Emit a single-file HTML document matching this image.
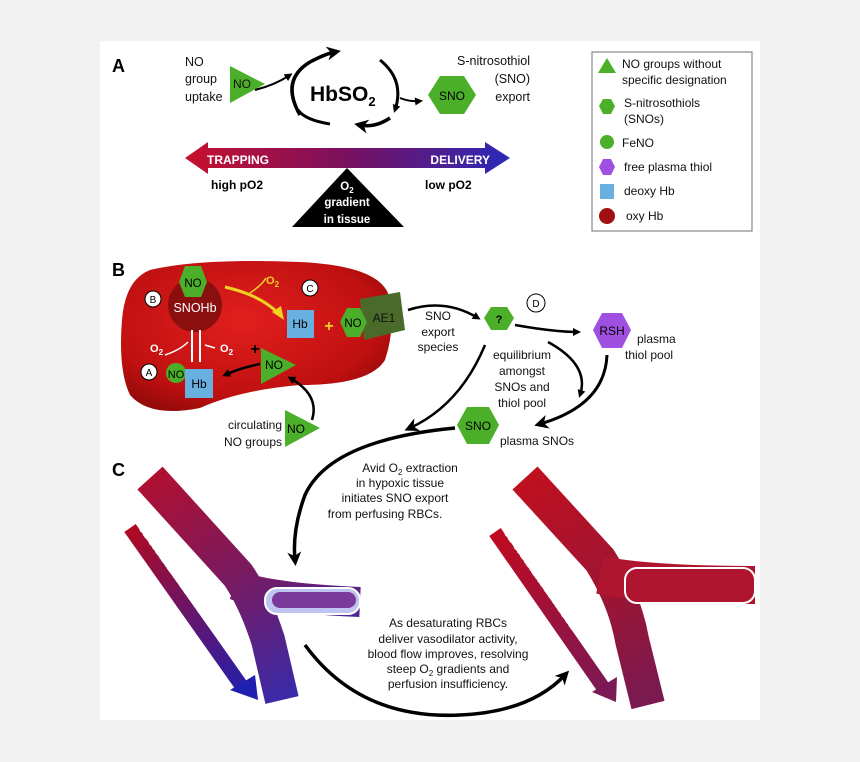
<!DOCTYPE html>
<html><head><meta charset="utf-8"><style>
html,body{margin:0;padding:0;background:#f2f2f2;}
svg{display:block;font-family:"Liberation Sans",sans-serif;}
</style></head><body>
<svg width="860" height="762" viewBox="0 0 860 762" xmlns="http://www.w3.org/2000/svg">
<defs>
<linearGradient id="tr" x1="0" x2="1"><stop offset="0" stop-color="#c8102e"/><stop offset="0.5" stop-color="#7a1060"/><stop offset="1" stop-color="#2a2ab8"/></linearGradient>
<radialGradient id="rbc" cx="0.45" cy="0.4" r="0.7"><stop offset="0" stop-color="#e0201e"/><stop offset="0.7" stop-color="#c01010"/><stop offset="1" stop-color="#8a0808"/></radialGradient>
<linearGradient id="v1" gradientUnits="userSpaceOnUse" x1="150" y1="475" x2="280" y2="700"><stop offset="0" stop-color="#b01030"/><stop offset="0.5" stop-color="#7a1a60"/><stop offset="1" stop-color="#3a2aa8"/></linearGradient>
<linearGradient id="v2" gradientUnits="userSpaceOnUse" x1="525" y1="475" x2="640" y2="700"><stop offset="0" stop-color="#c01020"/><stop offset="0.6" stop-color="#9a1535"/><stop offset="1" stop-color="#7a1a50"/></linearGradient>
<linearGradient id="g1" gradientUnits="userSpaceOnUse" x1="135" y1="525" x2="250" y2="695"><stop offset="0" stop-color="#b00a20"/><stop offset="1" stop-color="#2020b0"/></linearGradient>
<linearGradient id="g2" gradientUnits="userSpaceOnUse" x1="500" y1="530" x2="610" y2="695"><stop offset="0" stop-color="#c00a20"/><stop offset="1" stop-color="#7a1a55"/></linearGradient>
<marker id="ah" markerWidth="8" markerHeight="8" refX="5" refY="4" orient="auto" markerUnits="userSpaceOnUse"><path d="M0,0 L8,4 L0,8 Z" fill="#000"/></marker>
<marker id="ahb" markerWidth="14" markerHeight="14" refX="8" refY="7" orient="auto" markerUnits="userSpaceOnUse"><path d="M0,0 L14,7 L0,14 L4,7 Z" fill="#000"/></marker>
</defs>
<rect x="100" y="41" width="660" height="679" fill="#fff"/>

<!-- Panel A -->
<text x="112" y="72" font-size="18" font-weight="bold">A</text>
<g font-size="12.5" fill="#111">
<text x="185" y="66">NO</text><text x="185" y="83">group</text><text x="185" y="101">uptake</text>
<text x="530" y="65" text-anchor="end">S-nitrosothiol</text><text x="530" y="83" text-anchor="end">(SNO)</text><text x="530" y="101" text-anchor="end">export</text>
</g>
<polygon points="230,66 265,84 230,103" fill="#4caf2a"/>
<text x="233" y="88" font-size="12" fill="#111">NO</text>
<path d="M255,90 Q275,85 290,75" fill="none" stroke="#000" stroke-width="2" marker-end="url(#ah)"/>
<path d="M300,115 Q280,80 310,62 Q325,54 335,52" fill="none" stroke="#000" stroke-width="3.5" marker-end="url(#ahb)"/>
<path d="M380,60 Q405,80 395,110" fill="none" stroke="#000" stroke-width="3" marker-end="url(#ah)"/>
<path d="M390,118 Q375,128 360,125" fill="none" stroke="#000" stroke-width="3.5" marker-end="url(#ahb)"/>
<path d="M330,124 Q305,120 298,110" fill="none" stroke="#000" stroke-width="3"/>
<path d="M400,98 Q410,102 420,101" fill="none" stroke="#000" stroke-width="2" marker-end="url(#ah)"/>
<text x="310" y="101" font-size="21" font-weight="bold">HbSO<tspan font-size="13" dy="5">2</tspan></text>
<polygon points="440,76 464,76 476,95 464,114 440,114 428,95" fill="#4caf2a"/>
<text x="452" y="100" font-size="12" text-anchor="middle">SNO</text>

<path d="M185,158 L208,142 L208,148 L485,148 L485,142 L510,158 L485,174 L485,168 L208,168 L208,174 Z" fill="url(#tr)"/>
<text x="207" y="164" font-size="12" font-weight="bold" fill="#fff">TRAPPING</text>
<text x="490" y="164" font-size="12" font-weight="bold" fill="#fff" text-anchor="end">DELIVERY</text>
<text x="211" y="189" font-size="12" font-weight="bold">high pO2</text>
<text x="425" y="189" font-size="12" font-weight="bold">low pO2</text>
<polygon points="347,168 404,227 292,227" fill="#000"/>
<g fill="#fff" font-size="11.5" font-weight="bold" text-anchor="middle">
<text x="347" y="190">O<tspan font-size="8" dy="3">2</tspan></text>
<text x="347" y="206">gradient</text><text x="347" y="223">in tissue</text></g>

<!-- Legend -->
<rect x="592" y="52" width="160" height="179" fill="#fff" stroke="#888" stroke-width="1.2"/>
<g font-size="12" fill="#111">
<polygon points="607,58 616,73 598,73" fill="#4caf2a"/>
<text x="622" y="68">NO groups without</text><text x="622" y="84">specific designation</text>
<polygon points="603,99 611,99 615,106 611,114 603,114 599,106" fill="#4caf2a"/>
<text x="624" y="107">S-nitrosothiols</text><text x="624" y="123">(SNOs)</text>
<circle cx="607" cy="142" r="7" fill="#4caf2a"/>
<text x="622" y="147">FeNO</text>
<polygon points="603,159 611,159 615,167 611,175 603,175 599,167" fill="#a050e0"/>
<text x="624" y="171">free plasma thiol</text>
<rect x="600" y="184" width="14" height="15" fill="#68b0e0"/>
<text x="624" y="195">deoxy Hb</text>
<circle cx="607" cy="216" r="8" fill="#a01010"/>
<text x="626" y="220">oxy Hb</text>
</g>

<!-- Panel B -->
<text x="112" y="276" font-size="18" font-weight="bold">B</text>
<path d="M150,270 Q200,258 300,262 Q385,266 390,300 Q395,330 385,360 Q370,385 300,385 Q240,390 200,408 Q150,418 130,395 Q118,370 122,320 Q125,280 150,270 Z" fill="url(#rbc)"/>
<circle cx="195" cy="305" r="27" fill="#8a1010"/>
<text x="195" y="312" font-size="12.5" fill="#fff" text-anchor="middle">SNOHb</text>
<polygon points="185,266 201,266 207,282 201,297 185,297 179,282" fill="#4caf2a"/>
<text x="193" y="287" font-size="11.5" text-anchor="middle">NO</text>
<circle cx="153" cy="299" r="8" fill="#fff" stroke="#000"/><text x="153" y="303" font-size="10" text-anchor="middle">B</text>
<circle cx="310" cy="288" r="8" fill="#fff" stroke="#000"/><text x="310" y="292" font-size="10" text-anchor="middle">C</text>
<circle cx="149" cy="372" r="8" fill="#fff" stroke="#000"/><text x="149" y="376" font-size="10" text-anchor="middle">A</text>
<circle cx="536" cy="303" r="9" fill="#fff" stroke="#000"/><text x="536" y="307" font-size="10" text-anchor="middle">D</text>
<path d="M225,287 Q260,295 278,313" fill="none" stroke="#f0d020" stroke-width="3"/>
<polygon points="284,320 272,312 281,306" fill="#f0d020"/>
<path d="M250,293 Q262,285 266,278" fill="none" stroke="#f0d020" stroke-width="1.5"/>
<text x="266" y="284" font-size="11" font-weight="bold" fill="#f0d020">O<tspan font-size="8" dy="3">2</tspan></text>
<rect x="287" y="310" width="27" height="28" fill="#68b0e0"/>
<text x="300" y="328" font-size="12" text-anchor="middle">Hb</text>
<text x="329" y="331" font-size="16" font-weight="bold" fill="#f0d020" text-anchor="middle">+</text>
<polygon points="360,299 400,292 405,330 364,340" fill="#4a6a2a"/>
<text x="384" y="322" font-size="12" fill="#111" text-anchor="middle">AE1</text>
<polygon points="347,308 360,308 367,322 360,337 347,337 340,322" fill="#4caf2a"/>
<text x="353" y="327" font-size="11.5" text-anchor="middle">NO</text>
<g fill="#fff" font-size="11" font-weight="bold"><text x="150" y="352">O<tspan font-size="8" dy="3">2</tspan></text><text x="220" y="352">O<tspan font-size="8" dy="3">2</tspan></text></g>
<path d="M192,330 L192,362 M200,362 L200,330" stroke="#fff" stroke-width="2"/>
<path d="M165,355 Q180,350 188,342 M205,345 L215,348" stroke="#fff" stroke-width="1.5" fill="none"/>
<circle cx="176" cy="373" r="10" fill="#4caf2a"/><text x="176" y="378" font-size="11" text-anchor="middle">NO</text>
<rect x="185" y="369" width="28" height="29" fill="#68b0e0"/><text x="199" y="388" font-size="12" text-anchor="middle">Hb</text>
<text x="255" y="354" font-size="16" font-weight="bold" text-anchor="middle">+</text>
<polygon points="261,348 296,365 261,384" fill="#4caf2a"/><text x="265" y="369" font-size="12">NO</text>
<path d="M260,364 Q240,368 225,375" fill="none" stroke="#000" stroke-width="2.5" marker-end="url(#ah)"/>
<path d="M312,420 Q320,395 290,378" fill="none" stroke="#000" stroke-width="2.5" marker-end="url(#ah)"/>
<g font-size="12" fill="#111" text-anchor="end"><text x="282" y="429">circulating</text><text x="282" y="446">NO groups</text></g>
<polygon points="285,410 320,428 285,447" fill="#4caf2a"/><text x="287" y="433" font-size="12">NO</text>

<path d="M408,310 Q445,298 478,318" fill="none" stroke="#000" stroke-width="2.5" marker-end="url(#ah)"/>
<g font-size="12" fill="#111" text-anchor="middle"><text x="438" y="320">SNO</text><text x="438" y="336">export</text><text x="438" y="351">species</text></g>
<polygon points="491,307 507,307 514,318 507,330 491,330 484,318" fill="#4caf2a"/>
<text x="499" y="323" font-size="11" font-weight="bold" text-anchor="middle">?</text>
<path d="M515,325 Q555,332 578,332" fill="none" stroke="#000" stroke-width="2.5" marker-end="url(#ah)"/>
<polygon points="602,313 622,313 631,330 622,348 602,348 593,330" fill="#a050e0"/>
<text x="612" y="335" font-size="12" text-anchor="middle">RSH</text>
<g font-size="12" fill="#111"><text x="637" y="343">plasma</text><text x="625" y="359">thiol pool</text></g>
<g font-size="12" fill="#111" text-anchor="middle"><text x="522" y="359">equilibrium</text><text x="522" y="375">amongst</text><text x="522" y="391">SNOs and</text><text x="522" y="407">thiol pool</text></g>
<path d="M548,342 Q590,365 580,395" fill="none" stroke="#000" stroke-width="2.5" marker-end="url(#ah)"/>
<path d="M607,355 Q605,405 540,424" fill="none" stroke="#000" stroke-width="3" marker-end="url(#ahb)"/>
<polygon points="467,407 489,407 499,425 489,444 467,444 457,425" fill="#4caf2a"/>
<text x="478" y="430" font-size="12" text-anchor="middle">SNO</text>
<text x="500" y="445" font-size="12" fill="#111">plasma SNOs</text>
<path d="M485,345 Q460,405 410,428" fill="none" stroke="#000" stroke-width="2.5" marker-end="url(#ahb)"/>

<!-- Panel C -->
<text x="112" y="476" font-size="18" font-weight="bold">C</text>

<!-- left vessel -->
<path d="M150,478 L238,575 Q255,600 268,640 L282,700" fill="none" stroke="url(#v1)" stroke-width="34" stroke-linejoin="round"/>
<path d="M235,585 Q270,598 360,602" fill="none" stroke="url(#v1)" stroke-width="30"/>
<rect x="265" y="588" width="95" height="26" rx="12" fill="#c0c4f0" stroke="#fff" stroke-width="2"/>
<rect x="272" y="592" width="84" height="16" rx="8" fill="#7a3a9a"/>
<path d="M130,528 L243,688" stroke="url(#g1)" stroke-width="14" fill="none"/>
<polygon points="230,690 255,675 258,700" fill="#2020b0"/>
<text transform="translate(138,528) rotate(54.5)" font-size="10" fill="#fff" font-weight="bold">O2 GRADIENT IN TISSUE</text>
<!-- right vessel -->
<path d="M525,478 L600,560 Q625,600 632,640 L648,705" fill="none" stroke="url(#v2)" stroke-width="34" stroke-linejoin="round"/>
<path d="M600,575 Q650,585 755,585" fill="none" stroke="#b01530" stroke-width="38"/>
<rect x="625" y="568" width="130" height="35" rx="12" fill="#b01530" stroke="#fff" stroke-width="2"/>
<path d="M495,532 L605,690" stroke="url(#g2)" stroke-width="14" fill="none"/>
<polygon points="592,692 617,677 616,702" fill="#7a1a55"/>
<text transform="translate(503,532) rotate(55)" font-size="10" fill="#fff" font-weight="bold">O2 GRADIENT IN TISSUE</text>

<path d="M455,428 Q330,440 305,495 Q292,530 295,560" fill="none" stroke="#000" stroke-width="3.5" marker-end="url(#ahb)"/>
<g font-size="12" fill="#111" text-anchor="middle"><text x="410" y="472">Avid O<tspan font-size="8" dy="3">2</tspan><tspan dy="-3"> extraction</tspan></text><text x="400" y="487">in hypoxic tissue</text><text x="395" y="502">initiates SNO export</text><text x="385" y="518">from perfusing RBCs.</text></g>

<path d="M305,645 Q360,720 460,715 Q530,712 565,675" fill="none" stroke="#000" stroke-width="3.5" marker-end="url(#ahb)"/>
<g font-size="12" fill="#111" text-anchor="middle"><text x="448" y="627">As desaturating RBCs</text><text x="448" y="643">deliver vasodilator activity,</text><text x="448" y="658">blood flow improves, resolving</text><text x="448" y="673">steep O<tspan font-size="8" dy="3">2</tspan><tspan dy="-3"> gradients and</tspan></text><text x="448" y="688">perfusion insufficiency.</text></g>
</svg>
</body></html>
